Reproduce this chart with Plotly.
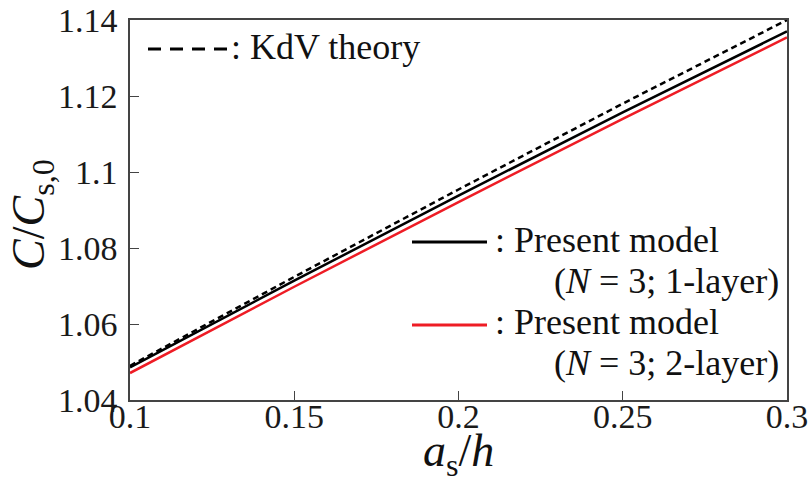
import plotly.graph_objects as go

# Dimensionless amplitude a_s/h
amplitude = [0.10, 0.15, 0.20, 0.25, 0.30]
# Phase speed C/C_s,0
kdv_theory = [1.0490, 1.0724, 1.0954, 1.1180, 1.1400]
model_1layer = [1.0486, 1.0714, 1.0938, 1.1157, 1.1370]
model_2layer = [1.0471, 1.0698, 1.0921, 1.1140, 1.1354]

x_ticks = [0.1, 0.15, 0.2, 0.25, 0.3]
x_tick_text = ["0.1", "0.15", "0.2", "0.25", "0.3"]
y_ticks = [1.04, 1.06, 1.08, 1.10, 1.12, 1.14]
y_tick_text = ["1.04", "1.06", "1.08", "1.1", "1.12", "1.14"]

RED = "#ee1c25"
FONT = "Liberation Serif, Times New Roman, serif"
W, H = 809, 479
L, R, T, B = 130, 22, 20, 79
PW, PH = W - L - R, H - T - B


def px(x):
    return (x - L) / PW


def py(y):
    return (H - B - y) / PH


fig = go.Figure()
fig.add_trace(go.Scatter(x=amplitude, y=kdv_theory, mode="lines",
                         line=dict(color="black", width=2.5, dash="6px,4px")))
fig.add_trace(go.Scatter(x=amplitude, y=model_1layer, mode="lines",
                         line=dict(color="black", width=2.5)))
fig.add_trace(go.Scatter(x=amplitude, y=model_2layer, mode="lines",
                         line=dict(color=RED, width=2.5)))

axis_common = dict(
    showgrid=False, zeroline=False, showline=True, linecolor="#444",
    linewidth=1.5, mirror=True, ticks="inside", ticklen=9, tickwidth=1,
    tickcolor="#444", automargin=False,
    tickfont=dict(family=FONT, size=34, color="#1a1a1a"),
)

fig.update_layout(
    width=W, height=H, margin=dict(l=L, r=R, t=T, b=B),
    paper_bgcolor="white", plot_bgcolor="white", showlegend=False,
    font=dict(family=FONT, color="#111"),
    xaxis=dict(range=[0.1, 0.3], tickvals=x_ticks, ticktext=x_tick_text,
               ticklabelstandoff=-15, **axis_common),
    yaxis=dict(range=[1.04, 1.14], tickvals=y_ticks, ticktext=y_tick_text,
               ticklabelstandoff=4, **axis_common),
)

# Axis titles
fig.add_annotation(xref="paper", yref="paper", x=0.5, y=py(454),
                   text="<i>a</i><sub>s</sub>/<i>h</i>", showarrow=False,
                   font=dict(family=FONT, size=46, color="#111"),
                   xanchor="center", yanchor="middle")
fig.add_annotation(xref="paper", yref="paper", x=px(32), y=py(215),
                   text="<i>C</i>/<i>C</i><sub>s,0</sub>", showarrow=False,
                   textangle=-90, font=dict(family=FONT, size=46, color="#111"),
                   xanchor="center", yanchor="middle")

# Legend samples
fig.add_shape(type="line", xref="paper", yref="paper",
              x0=px(148), x1=px(227), y0=py(49), y1=py(49),
              line=dict(color="black", width=3, dash="13px,9px"))
fig.add_shape(type="line", xref="paper", yref="paper",
              x0=px(412), x1=px(487), y0=py(242), y1=py(242),
              line=dict(color="black", width=3))
fig.add_shape(type="line", xref="paper", yref="paper",
              x0=px(412), x1=px(487), y0=py(325), y1=py(325),
              line=dict(color=RED, width=3))

legend_font = dict(family=FONT, size=36, color="#111")
labels = [
    (229, 47, ": KdV theory", "left"),
    (493, 240, ": Present model", "left"),
    (781, 281, "(<i>N</i> = 3; 1-layer)", "right"),
    (493, 322, ": Present model", "left"),
    (781, 363, "(<i>N</i> = 3; 2-layer)", "right"),
]
for x, y, text, anchor in labels:
    fig.add_annotation(xref="paper", yref="paper", x=px(x), y=py(y),
                       text=text, showarrow=False, font=legend_font,
                       xanchor=anchor, yanchor="middle")

fig.write_html("out.html")
